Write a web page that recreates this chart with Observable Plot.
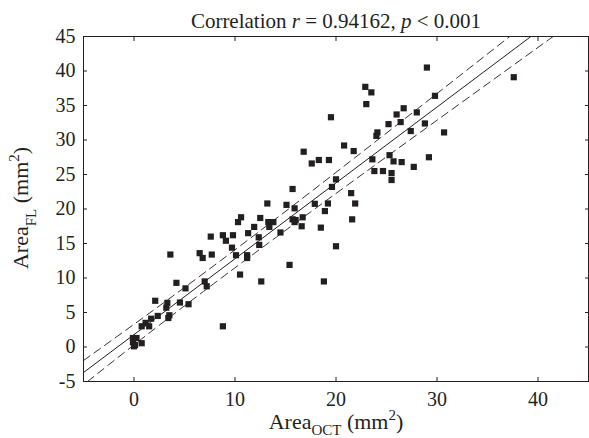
<!DOCTYPE html>
<html>
<head>
<meta charset="utf-8">
<script src="https://cdn.jsdelivr.net/npm/d3@7"></script>
<script src="https://cdn.jsdelivr.net/npm/@observablehq/plot@0.6"></script>
<style>
  body { margin: 0; background: #fff; }
  #chart svg { display: block; }
</style>
</head>
<body>
<div id="chart"></div>
<script>
// Area measured by OCT (x) and by FL (y), mm^2
const areaOCT = [0, 0.1, -0.1, -0.1, 0.25, 0.76, 0.76, 1.5, 1.15, 1.7, 2.35, 3.4, 3.5, 3.2, 2.1, 3.3, 4.55, 5.4, 5.1, 4.2,
  7.0, 7.2, 8.8, 10.5, 3.6, 6.5, 6.8, 7.7, 10.1, 11.2, 11.2, 12.6, 15.4, 9.7, 12.4, 9.1, 12.35, 7.6, 8.8, 9.8,
  11.3, 14.5, 11.9, 13.4, 13.3, 13.8, 10.3, 10.6, 12.5, 15.7, 15.9, 16.7, 16.6, 18.5, 13.2, 15.1, 15.9, 17.9, 19.2, 18.9,
  20.0, 18.8, 15.7, 19.6, 20.0, 21.5, 21.9, 21.6, 16.8, 17.6, 18.3, 19.3, 19.5, 20.8, 21.75, 22.9, 23.5, 23.0, 23.6, 23.8,
  24.65, 24.1, 24.0, 25.2, 25.3, 25.7, 26.5, 25.5, 25.5, 26.0, 26.7, 26.4, 27.4, 27.7, 28.0, 28.8, 29.2, 29.0, 29.8, 30.7,
  37.6, 16.0];
const areaFL = [0.1, 0.3, 0.7, 1.3, 1.3, 0.55, 3.0, 3.0, 3.5, 4.1, 4.5, 4.2, 4.6, 5.7, 6.7, 6.4, 6.45, 6.2, 8.5, 9.3,
  9.5, 8.8, 3.0, 10.5, 13.4, 13.6, 12.9, 13.4, 13.3, 13.3, 12.9, 9.5, 11.9, 14.4, 14.8, 15.4, 15.9, 16.0, 16.2, 16.2,
  16.5, 16.6, 17.4, 17.4, 18.1, 18.1, 18.1, 18.8, 18.7, 18.5, 18.1, 18.8, 17.5, 17.3, 20.8, 20.6, 20.1, 20.75, 20.8, 19.7,
  14.6, 9.5, 22.9, 23.2, 24.3, 22.3, 20.8, 18.5, 28.3, 26.6, 27.1, 27.1, 33.3, 29.2, 28.4, 37.7, 36.9, 35.2, 27.2, 25.5,
  25.5, 31.1, 30.6, 32.3, 27.8, 26.9, 26.8, 25.2, 24.2, 33.7, 34.6, 32.6, 31.3, 26.1, 34.0, 32.4, 27.5, 40.5, 36.4, 31.1,
  39.1, 18.4];

// Fitted line and its dashed band (x, y pairs)
const fitX = [-5, 39.3];
const fitY = [-3.7, 45];
const upperX = [-5, 12, 37.2];
const upperY = [-1.96, 16.3, 45];
const lowerX = [-4.6, 12, 41.5];
const lowerY = [-5, 13.66, 45];

const xDomain = [-5, 45];
const yDomain = [-5, 45];
const xTicks = [0, 10, 20, 30, 40];
const yTicks = [-5, 0, 5, 10, 15, 20, 25, 30, 35, 40, 45];

const ink = "#231f20";
const font = "'Liberation Serif', 'Times New Roman', serif";

const points = areaOCT.map((x, i) => ({x, y: areaFL[i]}));
const pairs = (xs, ys) => xs.map((x, i) => ({x, y: ys[i]}));

const plot = Plot.plot({
  width: 589,
  height: 438,
  marginTop: 36,
  marginBottom: 57,
  marginLeft: 83,
  marginRight: 1,
  style: {fontFamily: font, fontSize: "20px", color: ink, background: "#fff"},
  x: {domain: xDomain, ticks: xTicks},
  y: {domain: yDomain, ticks: yTicks},
  marks: [
    Plot.line(pairs(fitX, fitY), {x: "x", y: "y", stroke: ink, strokeWidth: 1, clip: true}),
    Plot.line(pairs(upperX, upperY), {x: "x", y: "y", curve: "natural", stroke: "#333", strokeWidth: 1, strokeDasharray: "8,5", clip: true}),
    Plot.line(pairs(lowerX, lowerY), {x: "x", y: "y", curve: "natural", stroke: "#333", strokeWidth: 1, strokeDasharray: "8,5", clip: true}),
    Plot.dot(points, {x: "x", y: "y", symbol: "square", r: 3.5, fill: ink, stroke: "none"}),
    Plot.frame({stroke: ink, strokeWidth: 1}),
    Plot.axisX(xTicks, {anchor: "bottom", tickSize: -4, tickPadding: 14, label: null, stroke: ink, tickFormat: d => String(d)}),
    Plot.axisX(xTicks, {anchor: "top", tickSize: -4, label: null, stroke: ink, tickFormat: () => ""}),
    Plot.axisY(yTicks, {anchor: "left", tickSize: -4, tickPadding: 12, label: null, stroke: ink, tickFormat: d => String(d)}),
    Plot.axisY(yTicks, {anchor: "right", tickSize: -4, label: null, stroke: ink, tickFormat: () => ""})
  ]
});

document.getElementById("chart").appendChild(plot);

// Title and axis labels (rich text with italic / sub / superscripts)
const svg = d3.select(plot);
function richText(x, y, rotate, size, parts) {
  const t = svg.append("text")
    .attr("transform", `translate(${x},${y}) rotate(${rotate})`)
    .attr("text-anchor", "middle")
    .attr("fill", ink)
    .style("font-family", font)
    .style("font-size", size + "px");
  parts.forEach(p => {
    const s = t.append("tspan").text(p.text);
    if (p.italic) s.style("font-style", "italic");
    if (p.small) s.style("font-size", Math.round(size * 0.7) + "px");
    if (p.dy) s.attr("dy", p.dy);
  });
}
richText(336, 28, 0, 21, [
  {text: "Correlation "}, {text: "r", italic: true}, {text: " = 0.94162, "},
  {text: "p", italic: true}, {text: " < 0.001"}
]);
richText(336, 429, 0, 22, [
  {text: "Area"}, {text: "OCT", small: true, dy: 6}, {text: " (mm", dy: -6},
  {text: "2", small: true, dy: -9}, {text: ")", dy: 9}
]);
richText(28, 208, -90, 22, [
  {text: "Area"}, {text: "FL", small: true, dy: 8}, {text: " (mm", dy: -8},
  {text: "2", small: true, dy: -9}, {text: ")", dy: 9}
]);
</script>
</body>
</html>
